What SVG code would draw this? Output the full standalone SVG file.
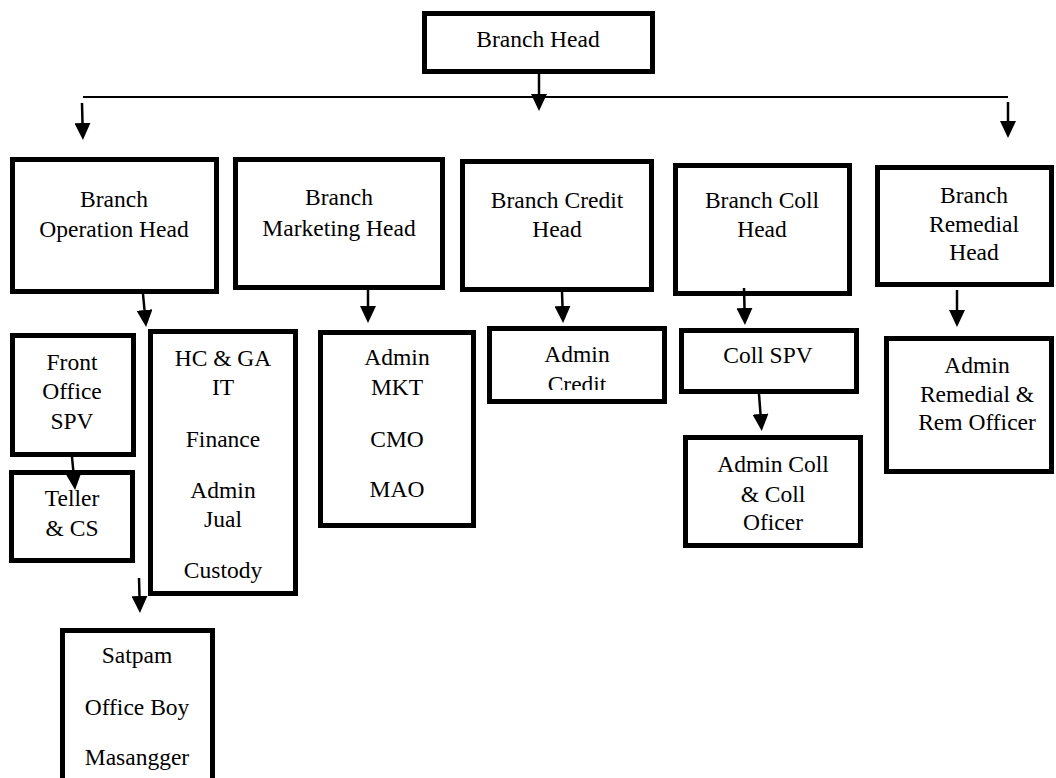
<svg xmlns="http://www.w3.org/2000/svg" width="1056" height="778" viewBox="0 0 1056 778">
<style>
.box{fill:#fff;stroke:#000;stroke-width:5}
.t{font-family:'Liberation Serif','Times New Roman','DejaVu Serif',serif;font-size:23.5px;fill:#000;text-anchor:middle}
.c{stroke:#000;stroke-width:2;fill:none}
.a{stroke:#000;stroke-width:2.5;fill:none;marker-end:url(#ah)}
</style>
<defs>
<marker id="ah" viewBox="0 0 17 16" refX="0" refY="8" markerWidth="17" markerHeight="16" markerUnits="userSpaceOnUse" orient="auto">
<path d="M0,0 L17,8 L0,16 z" fill="#000"/>
</marker>
<clipPath id="clipCredit"><rect x="480" y="320" width="200" height="70"/></clipPath>
</defs>
<rect width="1056" height="778" fill="#fff"/>
<g id="branch-head"><rect class="box" x="424.5" y="13.5" width="228" height="58"/><text class="t" x="538" y="47">Branch Head</text></g>
<g id="operation-head"><rect class="box" x="12.5" y="159.5" width="204" height="132"/><text class="t" x="114" y="207">Branch</text><text class="t" x="114" y="237">Operation Head</text></g>
<g id="marketing-head"><rect class="box" x="235.5" y="159.5" width="207" height="128"/><text class="t" x="339" y="205">Branch</text><text class="t" x="339" y="236">Marketing Head</text></g>
<g id="credit-head"><rect class="box" x="462.5" y="161.5" width="189" height="128"/><text class="t" x="557" y="208">Branch Credit</text><text class="t" x="557" y="237">Head</text></g>
<g id="coll-head"><rect class="box" x="675.5" y="165.5" width="174" height="128"/><text class="t" x="762" y="208">Branch Coll</text><text class="t" x="762" y="237">Head</text></g>
<g id="remedial-head"><rect class="box" x="877.5" y="167.5" width="174" height="117"/><text class="t" x="974" y="203">Branch</text><text class="t" x="974" y="232">Remedial</text><text class="t" x="974" y="260">Head</text></g>
<g id="front-office-spv"><rect class="box" x="12.5" y="335.5" width="121" height="119"/><text class="t" x="72" y="370">Front</text><text class="t" x="72" y="399">Office</text><text class="t" x="72" y="429">SPV</text></g>
<g id="teller-cs"><rect class="box" x="11.5" y="472.5" width="121" height="88"/><text class="t" x="72" y="506">Teller</text><text class="t" x="72" y="536">&amp; CS</text></g>
<g id="hc-ga"><rect class="box" x="150.5" y="331.5" width="145" height="262"/><text class="t" x="223" y="366">HC &amp; GA</text><text class="t" x="223" y="395">IT</text><text class="t" x="223" y="447">Finance</text><text class="t" x="223" y="498">Admin</text><text class="t" x="223" y="527">Jual</text><text class="t" x="223" y="578">Custody</text></g>
<g id="admin-mkt"><rect class="box" x="320.5" y="332.5" width="153" height="193"/><text class="t" x="397" y="365">Admin</text><text class="t" x="397" y="395">MKT</text><text class="t" x="397" y="447">CMO</text><text class="t" x="397" y="497">MAO</text></g>
<g id="admin-credit"><rect class="box" x="489.5" y="328.5" width="175" height="73"/><text class="t" x="577" y="362">Admin</text><text class="t" x="577" y="392" clip-path="url(#clipCredit)">Credit</text></g>
<g id="coll-spv"><rect class="box" x="681.5" y="330.5" width="175" height="61"/><text class="t" x="768" y="363">Coll SPV</text></g>
<g id="admin-coll"><rect class="box" x="685.5" y="437.5" width="175" height="108"/><text class="t" x="773" y="472">Admin Coll</text><text class="t" x="773" y="502">&amp; Coll</text><text class="t" x="773" y="530">Oficer</text></g>
<g id="admin-remedial"><rect class="box" x="886.5" y="338.5" width="165" height="133"/><text class="t" x="977" y="373">Admin</text><text class="t" x="977" y="402">Remedial &amp;</text><text class="t" x="977" y="430">Rem Officer</text></g>
<g id="satpam"><rect class="box" x="62.5" y="630.5" width="150" height="170"/><text class="t" x="137" y="663">Satpam</text><text class="t" x="137" y="715">Office Boy</text><text class="t" x="137" y="765">Masangger</text></g>
<g id="connectors">
<line class="c" x1="83" y1="97" x2="1008" y2="97"/>
<line class="a" x1="539" y1="73" x2="539" y2="94"/>
<line class="a" x1="82" y1="103" x2="82.5" y2="123"/>
<line class="a" x1="1008" y1="102" x2="1008" y2="121"/>
<line class="a" x1="143" y1="294" x2="144.5" y2="310"/>
<line class="a" x1="368" y1="290" x2="368" y2="306"/>
<line class="a" x1="562" y1="292" x2="562.5" y2="306"/>
<line class="a" x1="744" y1="288" x2="744.5" y2="308"/>
<line class="a" x1="957" y1="290" x2="957" y2="310"/>
<line class="a" x1="72" y1="457" x2="73.5" y2="473"/>
<line class="a" x1="759" y1="394" x2="760.5" y2="414"/>
<line class="a" x1="139" y1="578" x2="139.5" y2="596"/>
</g>
</svg>
